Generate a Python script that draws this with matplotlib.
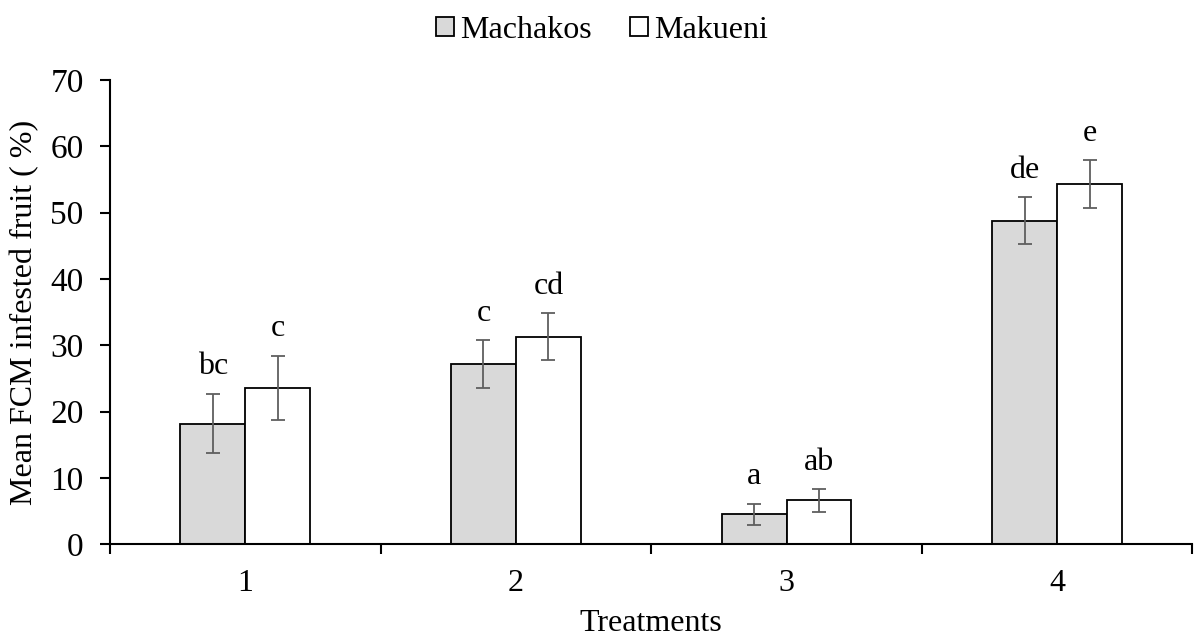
import matplotlib.pyplot as plt
import numpy as np

plt.rcParams['font.family'] = ['Liberation Serif', 'DejaVu Serif']

treatments = ["1", "2", "3", "4"]
machakos = [18.2, 27.2, 4.5, 48.8]
machakos_err = [4.5, 3.6, 1.6, 3.5]
makueni = [23.6, 31.3, 6.6, 54.3]
makueni_err = [4.8, 3.5, 1.7, 3.6]
machakos_letters = ["bc", "c", "a", "de"]
makueni_letters = ["c", "cd", "ab", "e"]


def plot_bars():
    fig = plt.figure(figsize=(12.04, 6.41), dpi=100)
    ax = fig.add_axes([0.0914, 0.151, 0.899, 0.724])
    x = np.arange(len(treatments))
    w = 0.24
    err_style = dict(ecolor='#5f5f5f', elinewidth=1.3, capsize=5, capthick=1.3)
    b1 = ax.bar(x - w / 2, machakos, w, color='#d9d9d9', edgecolor='black',
                linewidth=1.3, yerr=machakos_err, error_kw=err_style, label='Machakos')
    b2 = ax.bar(x + w / 2, makueni, w, color='white', edgecolor='black',
                linewidth=1.3, yerr=makueni_err, error_kw=err_style, label='Makueni')

    for i in range(len(treatments)):
        ax.annotate(machakos_letters[i], (x[i] - w / 2, machakos[i] + machakos_err[i]),
                    xytext=(0, 9), textcoords='offset points', ha='center', va='bottom',
                    fontsize=23)
        ax.annotate(makueni_letters[i], (x[i] + w / 2, makueni[i] + makueni_err[i]),
                    xytext=(0, 9), textcoords='offset points', ha='center', va='bottom',
                    fontsize=23)

    ax.set_xlim(-0.5, len(treatments) - 0.5)
    ax.set_ylim(0, 70)
    ax.set_yticks(np.arange(0, 71, 10))
    ax.set_xticks(x)
    ax.set_xticklabels(treatments)
    ax.set_xticks(np.arange(-0.5, len(treatments), 1), minor=True)
    ax.tick_params(axis='x', which='major', length=0, pad=18, labelsize=23)
    ax.tick_params(axis='x', which='minor', length=7, width=1.5, direction='out')
    ax.tick_params(axis='y', length=7, width=1.5, direction='out', labelsize=24, pad=12)

    for s in ['top', 'right']:
        ax.spines[s].set_visible(False)
    for s in ['left', 'bottom']:
        ax.spines[s].set_linewidth(1.5)

    ax.set_xlabel("Treatments", fontsize=23, labelpad=8)
    ax.set_ylabel("Mean FCM infested fruit ( %)", fontsize=23, labelpad=8)

    fig.legend(handles=[b1, b2], loc='upper center', bbox_to_anchor=(0.5, 1.02),
               ncol=2, frameon=False, fontsize=23, handlelength=0.55, handleheight=0.55,
               handletextpad=0.2, columnspacing=1.2)

    fig.savefig('out.png', dpi=100)


if __name__ == "__main__":
    plot_bars()
